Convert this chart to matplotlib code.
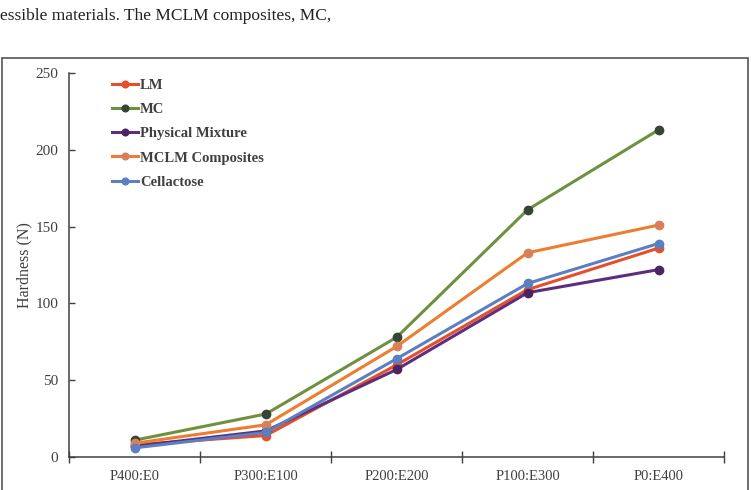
import matplotlib.pyplot as plt
from matplotlib.patches import Rectangle

# data
ratios = ["P400:E0", "P300:E100", "P200:E200", "P100:E300", "P0:E400"]
lm = [8, 14, 60, 109, 136]
mc = [11, 28, 78, 161, 213]
phys_mix = [7, 17, 57, 107, 122]
mclm = [9, 21, 72, 133, 151]
cellactose = [6, 16, 64, 113, 139]

series = [
    ("LM", lm, "#E5502A", "#E5502A"),
    ("MC", mc, "#6E9140", "#364536"),
    ("Physical Mixture", phys_mix, "#5E2D7E", "#4A2563"),
    ("MCLM Composites", mclm, "#ED7D31", "#D9805A"),
    ("Cellactose", cellactose, "#5B7FBF", "#5B7FBF"),
]

serif = ["Liberation Serif", "DejaVu Serif"]
plt.rcParams["font.family"] = serif

fig = plt.figure(figsize=(7.51, 4.90), dpi=100)

# page text above the figure box
fig.text(0.0, 0.968, "essible materials. The MCLM composites, MC,", fontsize=12.5,
         color="#222222", va="center", ha="left")

# frame around the chart
fig.patches.append(Rectangle((0.003, -0.01), 0.993, 0.891, transform=fig.transFigure,
                             fill=False, edgecolor="#555555", linewidth=1.2))

ax = fig.add_axes([0.0925, 0.0673, 0.8715, 0.7837])
x = list(range(len(ratios)))
for name, vals, col, mcol in series:
    ax.plot(x, vals, color=col, linewidth=2.2, marker="o", markersize=6,
            markerfacecolor=mcol, markeredgecolor=mcol, label=name)

ax.set_xlim(-0.5, len(ratios) - 0.5)
ax.set_ylim(0, 250)
ax.set_yticks([0, 50, 100, 150, 200, 250])
ax.set_xticks(x)
ax.set_xticklabels(ratios)
ax.set_xticks([i - 0.5 for i in range(len(ratios) + 1)], minor=True)
ax.tick_params(axis="x", which="major", length=0, pad=9, labelsize=10.5, labelcolor="#404040")
ax.tick_params(axis="x", which="minor", direction="inout", length=8, width=1, color="#404040")
ax.tick_params(axis="y", direction="in", length=4, width=1, color="#404040",
               labelsize=11, labelcolor="#404040", pad=8)
for s in ["top", "right"]:
    ax.spines[s].set_visible(False)
for s in ["left", "bottom"]:
    ax.spines[s].set_color("#404040")
    ax.spines[s].set_linewidth(1.1)

ax.set_ylabel("Hardness (N)", fontsize=11.5, color="#404040")
ax.yaxis.set_label_coords(-0.057, 0.5)

leg = ax.legend(loc="upper left", bbox_to_anchor=(0.045, 1.02), frameon=False,
                prop={"family": serif, "weight": "bold", "size": 10.5},
                handlelength=1.8, handletextpad=0.1, labelspacing=0.76, markerscale=0.8)
for t in leg.get_texts():
    t.set_color("#404040")

fig.savefig("out.png", dpi=100)
